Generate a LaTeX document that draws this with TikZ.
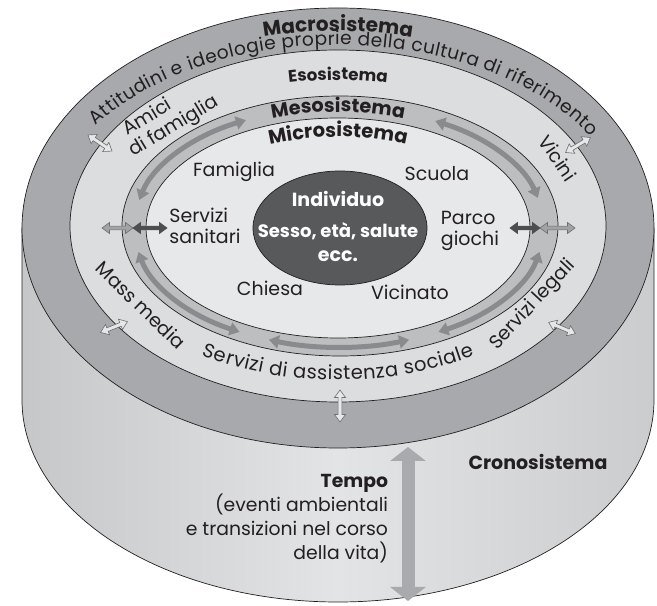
\documentclass[tikz,border=0pt]{standalone}
\usepackage{fontspec}
\setmainfont{Poppins}
\usetikzlibrary{arrows.meta,shapes.geometric,decorations.text}
\definecolor{macroC}{HTML}{A7A9AC}
\definecolor{exoC}{HTML}{DCDDDF}
\definecolor{mesoC}{HTML}{BCBEC0}
\definecolor{microC}{HTML}{E7E8E9}
\definecolor{indC}{HTML}{58595B}
\definecolor{sideL}{HTML}{C6C7C9}
\definecolor{sideM}{HTML}{E3E4E6}
\definecolor{sideR}{HTML}{CBCCCE}
\definecolor{txtC}{HTML}{231F20}
\definecolor{mArrC}{HTML}{8A8B8E}
\definecolor{bigArrC}{HTML}{A9AAAD}
\definecolor{lightArr}{HTML}{A2A3A6}
\definecolor{darkArr}{HTML}{4D4E50}
\definecolor{openArr}{HTML}{E6E7E8}
\definecolor{openDraw}{HTML}{6D6E70}
\newcommand\mydarrow[6]{%
  \begin{scope}[shift={(#1,#2)},rotate=#3]
    \draw[fill=#5,draw=#6,line width=0.6pt,line join=miter]
      (-#4,0) -- (-#4+7.5,5.5) -- (-#4+7.5,1.9) -- (#4-7.5,1.9) -- (#4-7.5,5.5) -- (#4,0)
      -- (#4-7.5,-5.5) -- (#4-7.5,-1.9) -- (-#4+7.5,-1.9) -- (-#4+7.5,-5.5) -- cycle;
  \end{scope}}
\begin{document}
\begin{tikzpicture}[x=1pt,y=1pt,
  every node/.style={text=txtC, inner sep=0pt, outer sep=0pt},
  lbl/.style={font=\fontsize{19}{21}\selectfont},
  blbl/.style={font=\bfseries\fontsize{19}{21}\selectfont},
  layer/.style={ellipse, draw=txtC, line width=0.7pt, inner sep=0pt, outer sep=0pt},
  marr/.style={mArrC, line width=5pt, {Triangle[width=13pt,length=10pt]}-{Triangle[width=13pt,length=10pt]}}
]
\useasboundingbox (0,0) rectangle (657,606);
% cylinder side
\draw[line width=0.7pt, draw=txtC, left color=sideL, right color=sideR, middle color=sideM]
  (22,378) -- (22,206) arc[start angle=180,end angle=360,x radius=316pt,y radius=202pt] -- (654,378) -- cycle;
% top layers
\node[layer, fill=macroC, minimum width=632pt, minimum height=440pt] (macro) at (338,378) {};
\node[layer, fill=exoC, minimum width=536pt, minimum height=352pt] (exo) at (338,380) {};
\node[layer, fill=mesoC, minimum width=436pt, minimum height=260pt] (meso) at (340,380) {};
\node[layer, fill=microC, minimum width=384pt, minimum height=220pt] (micro) at (338,378) {};
\node[layer, fill=indC, minimum width=174pt, minimum height=114pt] (ind) at (340,378) {};
\coordinate (C) at (338,378);
\coordinate (M) at (339,379);
% meso arrows
\draw[marr] ([shift={(167:205pt and 120pt)}]M) arc[start angle=167,end angle=117,x radius=205pt,y radius=120pt];
\draw[marr] ([shift={(62:205pt and 120pt)}]M) arc[start angle=62,end angle=14,x radius=205pt,y radius=120pt];
\draw[marr] ([shift={(192:205pt and 120pt)}]M) arc[start angle=192,end angle=241,x radius=205pt,y radius=120pt];
\draw[marr] ([shift={(250:205pt and 120pt)}]M) arc[start angle=250,end angle=290,x radius=205pt,y radius=120pt];
\draw[marr] ([shift={(299:205pt and 120pt)}]M) arc[start angle=299,end angle=348,x radius=205pt,y radius=120pt];
% horizontal arrows
\mydarrow{117.5}{378}{0}{15.5}{lightArr}{openDraw}
\mydarrow{150}{378}{0}{17}{darkArr}{darkArr}
\mydarrow{557.5}{378}{0}{17.5}{lightArr}{openDraw}
\mydarrow{525}{378}{0}{15}{darkArr}{darkArr}
% open arrows across boundary
\mydarrow{100}{463}{-34}{14.5}{openArr}{openDraw}
\mydarrow{578}{461}{31}{14.5}{openArr}{openDraw}
\mydarrow{114}{279}{22}{14.5}{openArr}{openDraw}
\mydarrow{562}{278}{-23}{14.5}{openArr}{openDraw}
\mydarrow{340}{200}{90}{16}{openArr}{openDraw}
% big time arrow
\coordinate (tA) at (408,159);
\coordinate (tB) at (408,5);
\draw[bigArrC, line width=13pt, {Triangle[width=35pt,length=14pt]}-{Triangle[width=35pt,length=14pt]}] (tA) -- (tB);
% curved texts
\path[decorate, decoration={text along path, text color=txtC, text align=center,
  text={|\bfseries\fontsize{20}{22}\selectfont|Macrosistema}}]
  ([shift={(120:300pt and 197pt)}]C) arc[start angle=120,end angle=60,x radius=300pt,y radius=197pt];
\path[decorate, decoration={text along path, text color=txtC, text align=fit to path,
  text={|\fontsize{18.6}{20}\selectfont|Attitudini e ideologie proprie della cultura di riferimento}}]
  ([shift={(146:292pt and 183pt)}]C) arc[start angle=146,end angle=30,x radius=292pt,y radius=183pt];
\path[decorate, decoration={text along path, text color=txtC, text align=center,
  text={|\bfseries\fontsize{16.7}{18}\selectfont|Esosistema}}]
  ([shift={(120:245pt and 148pt)}]C) arc[start angle=120,end angle=60,x radius=245pt,y radius=148pt];
\path[decorate, decoration={text along path, text color=txtC, text align=center,
  text={|\bfseries\fontsize{19.2}{21}\selectfont|Mesosistema}}]
  ([shift={(130:200pt and 116pt)}]C) arc[start angle=130,end angle=50,x radius=200pt,y radius=116pt];
\path[decorate, decoration={text along path, text color=txtC, text align=center,
  text={|\bfseries\fontsize{19.5}{21}\selectfont|Microsistema}}]
  ([shift={(140:170pt and 91pt)}]C) arc[start angle=140,end angle=40,x radius=170pt,y radius=91pt];
\path[decorate, decoration={text along path, text color=txtC, text align=fit to path,
  text={|\fontsize{19.5}{21}\selectfont|Servizi di assistenza sociale}}]
  ([shift={(237:250pt and 152pt)}]C) arc[start angle=237,end angle=303,x radius=250pt,y radius=152pt];
% straight labels
\node[lbl, rotate=-44] (mass) at (141,301) {Mass media};
\node[lbl, rotate=47] (legali) at (533,301) {Servizi legali};
\node[lbl, rotate=31, align=left, anchor=base west] (amici) at (133,449) {\hspace*{6pt}Amici\\di famiglia};
\node[lbl, rotate=-56] (vicini) at (558,448) {Vicini};
\node[lbl] (fam) at (234,434) {Famiglia};
\node[lbl] (scu) at (437,432) {Scuola};
\node[lbl, align=left] (san) at (205,380) {Servizi\\sanitari};
\node[lbl, align=left] (parco) at (470,375) {Parco\\giochi};
\node[lbl] (chi) at (270,318) {Chiesa};
\node[lbl] (vic) at (410,314) {Vicinato};
\node[blbl, text=white] (indT) at (338,407) {Individuo};
\node[font=\bfseries\fontsize{18}{20}\selectfont, text=white] (sesso) at (338,375) {Sesso, età, salute};
\node[blbl, text=white] (ecc) at (338,350) {ecc.};
\node[blbl] (crono) at (538,144) {Cronosistema};
\node[font=\fontsize{18.8}{24.3}\selectfont, align=right, anchor=base east] (tempo) at (388,46)
  {\textbf{Tempo}\\(eventi ambientali\\e transizioni nel corso\\della vita)};
\end{tikzpicture}
\end{document}
